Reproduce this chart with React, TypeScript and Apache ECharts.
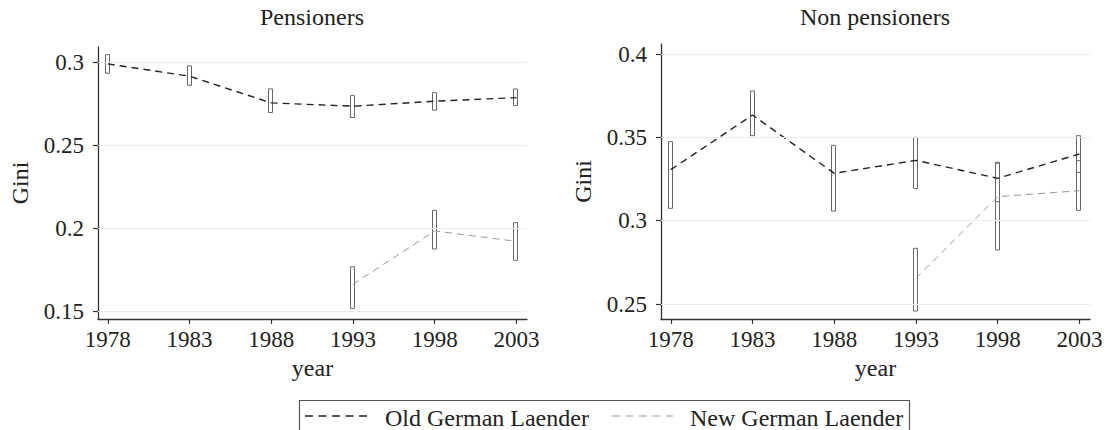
import React, { useEffect, useRef } from "react";
import * as echarts from "echarts";

// ---- data ----
const years = [1978, 1983, 1988, 1993, 1998, 2003];
const newYears = [1993, 1998, 2003];

// Pensioners
const pensOld = [0.299, 0.2916, 0.2755, 0.2735, 0.2765, 0.2787];
const pensOldLo = [0.2934, 0.2861, 0.2697, 0.2667, 0.2711, 0.2739];
const pensOldHi = [0.3046, 0.2978, 0.2839, 0.2799, 0.2817, 0.2839];
const pensNew = [0.1661, 0.1983, 0.192];
const pensNewLo = [0.1516, 0.1874, 0.1806];
const pensNewHi = [0.1767, 0.2107, 0.2033];

// Non pensioners
const nonOld = [0.3306, 0.3634, 0.3284, 0.3362, 0.3254, 0.34];
const nonOldLo = [0.3074, 0.351, 0.3058, 0.3192, 0.3114, 0.329];
const nonOldHi = [0.3474, 0.3778, 0.3452, 0.35, 0.335, 0.351];
const nonNew = [0.2654, 0.3144, 0.318];
const nonNewLo = [0.2458, 0.2824, 0.3062];
const nonNewHi = [0.2834, 0.3345, 0.336];

const xTicks = [1978, 1983, 1988, 1993, 1998, 2003];
const yTicksLeft = [0.15, 0.2, 0.25, 0.3];
const yTicksRight = [0.25, 0.3, 0.35, 0.4];

const titles = ["Pensioners", "Non pensioners"];
const legendNames = ["Old German Laender", "New German Laender"];

const FONT = '"Liberation Serif", "DejaVu Serif", serif';
const TXT = "#222";
const AXIS = "#333";
const OLD_C = "#222";
const NEW_C = "#999";
const BOX_C = "#666";

function pairs(xs: number[], ys: number[]) {
  return xs.map((x, i) => [x, ys[i]]);
}
function boxes(xs: number[], lo: number[], hi: number[]) {
  return xs.map((x, i) => [x, lo[i], hi[i]]);
}

const renderBox = (params: any, api: any) => {
  const x = api.value(0);
  const lo = api.value(1);
  const hi = api.value(2);
  const p1 = api.coord([x, hi]);
  const p2 = api.coord([x, lo]);
  const cx = Math.round(p1[0]);
  return {
    type: "rect",
    shape: { x: cx - 2.5, y: p1[1], width: 4, height: p2[1] - p1[1] },
    style: { fill: "none", stroke: BOX_C, lineWidth: 1 },
  };
};

function makeXAxis(gridIndex: number) {
  return {
    type: "value",
    gridIndex,
    min: 1977.4,
    max: 2003.65,
    name: "year",
    nameLocation: "middle",
    nameGap: 36,
    nameTextStyle: { fontFamily: FONT, fontSize: 24, color: TXT },
    axisLine: { show: true, lineStyle: { color: AXIS, width: 1.3 } },
    axisTick: { show: true, length: 5, customValues: xTicks, lineStyle: { color: AXIS, width: 1.2 } },
    axisLabel: {
      customValues: xTicks,
      margin: 9,
      fontFamily: FONT,
      fontSize: 23,
      color: TXT,
      formatter: (v: number) => String(v),
    },
    splitLine: { show: false },
  };
}

function makeYAxis(gridIndex: number, min: number, max: number, ticks: number[]) {
  return {
    type: "value",
    gridIndex,
    min,
    max,
    name: "Gini",
    nameLocation: "middle",
    nameGap: 66,
    nameRotate: 90,
    nameTextStyle: { fontFamily: FONT, fontSize: 24, color: TXT },
    axisLine: { show: true, lineStyle: { color: AXIS, width: 1.3 } },
    axisTick: { show: true, length: 5, customValues: ticks, lineStyle: { color: AXIS, width: 1.2 } },
    axisLabel: {
      customValues: ticks,
      margin: 14,
      fontFamily: FONT,
      fontSize: 23,
      color: TXT,
      formatter: (v: number) => String(Math.round(v * 100) / 100),
    },
    splitLine: { show: false },
  };
}

function gridMarkLine(ticks: number[]) {
  return {
    silent: true,
    symbol: "none",
    label: { show: false },
    lineStyle: { color: "#ececec", type: "solid", width: 1 },
    data: ticks.map((v) => ({ yAxis: v })),
  };
}

function panelSeries(
  idx: number,
  oldV: number[],
  oldLo: number[],
  oldHi: number[],
  newV: number[],
  newLo: number[],
  newHi: number[],
  ticks: number[]
) {
  return [
    {
      type: "custom",
      xAxisIndex: idx,
      yAxisIndex: idx,
      renderItem: renderBox,
      encode: { x: 0, y: [1, 2] },
      data: boxes(years, oldLo, oldHi),
      z: 2,
      markLine: gridMarkLine(ticks),
    },
    {
      type: "custom",
      xAxisIndex: idx,
      yAxisIndex: idx,
      renderItem: renderBox,
      encode: { x: 0, y: [1, 2] },
      data: boxes(newYears, newLo, newHi),
      z: 2,
    },
    {
      type: "line",
      name: legendNames[0],
      xAxisIndex: idx,
      yAxisIndex: idx,
      data: pairs(years, oldV),
      symbol: "none",
      lineStyle: { color: OLD_C, width: 1.4, type: [7, 5] },
      z: 3,
    },
    {
      type: "line",
      name: legendNames[1],
      xAxisIndex: idx,
      yAxisIndex: idx,
      data: pairs(newYears, newV),
      symbol: "none",
      lineStyle: { color: NEW_C, width: 1, type: [7, 5] },
      z: 3,
    },
  ];
}

export default function App() {
  const ref = useRef<HTMLDivElement>(null);
  useEffect(() => {
    if (!ref.current) return;
    const chart = echarts.init(ref.current, undefined, { renderer: "svg" });
    const option: any = {
      animation: false,
      backgroundColor: "#fff",
      title: [
        {
          text: titles[0],
          left: 312,
          top: 5,
          padding: 0,
          textAlign: "center",
          textStyle: { fontFamily: FONT, fontSize: 24, fontWeight: "normal", color: TXT },
        },
        {
          text: titles[1],
          left: 875,
          top: 5,
          padding: 0,
          textAlign: "center",
          textStyle: { fontFamily: FONT, fontSize: 24, fontWeight: "normal", color: TXT },
        },
      ],
      grid: [
        { left: 98, top: 47, width: 429, height: 272, containLabel: false },
        { left: 661, top: 44, width: 429, height: 275, containLabel: false },
      ],
      xAxis: [makeXAxis(0), makeXAxis(1)],
      yAxis: [
        makeYAxis(0, 0.1452, 0.3092, yTicksLeft),
        makeYAxis(1, 0.241, 0.406, yTicksRight),
      ],
      series: [
        ...panelSeries(0, pensOld, pensOldLo, pensOldHi, pensNew, pensNewLo, pensNewHi, yTicksLeft),
        ...panelSeries(1, nonOld, nonOldLo, nonOldHi, nonNew, nonNewLo, nonNewHi, yTicksRight),
      ],
      graphic: [
        {
          type: "rect",
          shape: { x: 299.5, y: 400.5, width: 610, height: 60 },
          style: { fill: "none", stroke: "#555", lineWidth: 1.2 },
          silent: true,
        },
        {
          type: "line",
          shape: { x1: 305, y1: 416, x2: 368, y2: 416 },
          style: { stroke: OLD_C, lineWidth: 1.3, lineDash: [8, 5.5] },
          silent: true,
        },
        {
          type: "text",
          x: 385,
          y: 418,
          style: {
            text: legendNames[0],
            fontFamily: FONT,
            fontSize: 24,
            lineHeight: 20,
            fill: TXT,
            verticalAlign: "middle",
            align: "left",
          },
          silent: true,
        },
        {
          type: "line",
          shape: { x1: 612, y1: 416, x2: 673, y2: 416 },
          style: { stroke: NEW_C, lineWidth: 1, lineDash: [8, 5.5] },
          silent: true,
        },
        {
          type: "text",
          x: 690,
          y: 418,
          style: {
            text: legendNames[1],
            fontFamily: FONT,
            fontSize: 24,
            lineHeight: 20,
            fill: TXT,
            verticalAlign: "middle",
            align: "left",
          },
          silent: true,
        },
      ],
    };
    chart.setOption(option);
    return () => chart.dispose();
  }, []);
  return (
    <div
      ref={ref}
      style={{ position: "absolute", left: 0, top: 0, width: 1112, height: 430 }}
    />
  );
}
